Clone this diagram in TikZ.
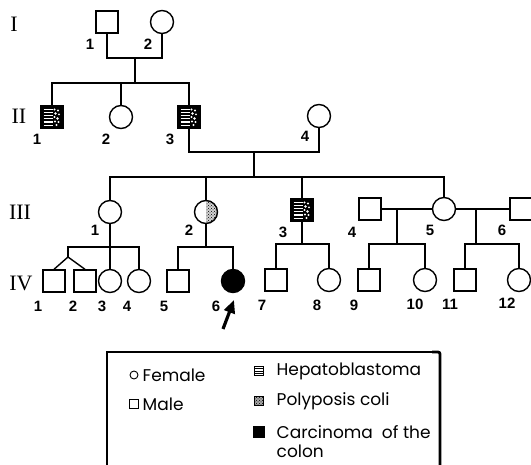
\documentclass[tikz,border=0pt]{standalone}
\usepackage{fontspec}
\setmainfont{Liberation Serif}
\newfontfamily\numfont{Liberation Sans}
\newfontfamily\legfont{Poppins}
\usetikzlibrary{patterns,arrows.meta,calc}
\begin{document}
\begin{tikzpicture}[x=1pt,y=-1pt,line width=1.4pt,
  male/.style={draw,rectangle,minimum size=22pt,inner sep=0pt,fill=white},
  female/.style={draw,circle,minimum size=23pt,inner sep=0pt,fill=white},
  both/.style={path picture={
     \fill[black] (path picture bounding box.south west) rectangle (path picture bounding box.north east);
     \foreach \i in {1,...,6}
       \draw[white,line width=1.1pt] ($(path picture bounding box.north west)+(2.5pt,-\i*3.1pt-0.5pt)$) -- ++(9pt,0pt);
     \foreach \dx/\dy/\r in {2.5/-3.5/1.2,6/-4.5/1.1,3.5/-7.5/1.3,7/-8.5/1,2.5/-11/1.1,5.5/-12.5/1.3,3/-15.5/1.2,6.5/-16/1.1,4.5/-19/1.2}
       \fill[white] ($(path picture bounding box.north)+(\dx pt,\dy pt)$) circle (\r pt);
  }},
  halfpoly/.style={path picture={
     \fill[gray!35] (path picture bounding box.north) rectangle (path picture bounding box.south east);
     \fill[pattern=crosshatch dots,pattern color=black] (path picture bounding box.north) rectangle (path picture bounding box.south east);
  }},
  num/.style={font=\numfont\bfseries\fontsize{15}{15}\selectfont,inner sep=0pt},
  gen/.style={font=\fontsize{22}{22}\selectfont,inner sep=0pt},
  leg/.style={font=\legfont\fontsize{17}{17}\selectfont,inner sep=0pt,anchor=west}
]
\useasboundingbox (0,0) rectangle (531,465);

% generation labels
\node[gen] (gI) at (14,24) {I};
\node[gen] (gII) at (19,116) {II};
\node[gen] (gIII) at (20,212) {III};
\node[gen] (gIV) at (21,283) {IV};

% Generation I
\node[male] (I1) at (107,22) {};
\node[female] (I2) at (162,22) {};
\node[num] (lI1) at (90,44) {1};
\node[num] (lI2) at (148,44) {2};

% Generation II
\node[male,both] (II1) at (52,117) {};
\node[female] (II2) at (121,117) {};
\node[male,both] (II3) at (189,117) {};
\node[female] (II4) at (319,116) {};
\node[num] (lII1) at (37,139) {1};
\node[num] (lII2) at (106,139) {2};
\node[num] (lII3) at (170,139) {3};
\node[num] (lII4) at (305,136) {4};

% Generation III
\node[female] (III1) at (110,212) {};
\node[female,halfpoly] (III2) at (206,212) {};
\node[male,both] (III3) at (302,210) {};
\node[male] (III4) at (370,209) {};
\node[female] (III5) at (444,209) {};
\node[male] (III6) at (521,209) {};
\node[num] (lIII1) at (95,230) {1};
\node[num] (lIII2) at (189,230) {2};
\node[num] (lIII3) at (283,232) {3};
\node[num] (lIII4) at (352,232) {4};
\node[num] (lIII5) at (430,230) {5};
\node[num] (lIII6) at (502,230) {6};

% Generation IV
\node[male] (IV1) at (54,281) {};
\node[male] (IV2) at (85,281) {};
\node[female] (IV3) at (110,281) {};
\node[female] (IV4) at (139,281) {};
\node[male] (IV5) at (178,281) {};
\node[female,fill=black] (IV6) at (233,281) {};
\node[male] (IV7) at (276,280) {};
\node[female] (IV8) at (329,280) {};
\node[male] (IV9) at (369,280) {};
\node[female] (IV10) at (425,280) {};
\node[male] (IV11) at (465,280) {};
\node[female] (IV12) at (519,280) {};
\node[num] (lIV1) at (38,306) {1};
\node[num] (lIV2) at (73,306) {2};
\node[num] (lIV3) at (102,306) {3};
\node[num] (lIV4) at (127,306) {4};
\node[num] (lIV5) at (164,306) {5};
\node[num] (lIV6) at (216,306) {6};
\node[num] (lIV7) at (262,305) {7};
\node[num] (lIV8) at (317,305) {8};
\node[num] (lIV9) at (354,305) {9};
\node[num] (lIV10) at (415,304) {10};
\node[num] (lIV11) at (450,304) {11};
\node[num] (lIV12) at (507,303) {12};

% connectors
\coordinate (m1) at (135,58);
\coordinate (s1) at (135,83);
\draw (I1.south) |- (m1) -| (I2.south);
\draw (m1) -- (s1);
\draw (II1.north) |- (s1) -| (II3.north);
\draw (II2.north) -- (II2.north |- s1);

\coordinate (m2) at (254,152);
\coordinate (s2) at (254,177);
\draw (II3.south) |- (m2) -| (II4.south);
\draw (m2) -- (s2);
\draw (III1.north) |- (s2) -| (III5.north);
\draw (III2.north) -- (III2.north |- s2);
\draw (III3.north) -- (III3.north |- s2);

\coordinate (s3) at (110,247);
\coordinate (tw) at (68,257);
\draw (III1.south) -- (IV3.north);
\draw (IV1.north) -- (tw) -- (IV2.north);
\draw (tw) |- (s3) -| (IV4.north);

\coordinate (s4) at (206,247);
\draw (III2.south) -- (s4);
\draw (IV5.north) |- (s4) -| (IV6.north);

\coordinate (s5) at (302,244);
\draw (III3.south) -- (s5);
\draw (IV7.north) |- (s5) -| (IV8.north);

\coordinate (m4) at (397,209);
\coordinate (s6) at (397,244);
\draw (III4.east) -- (III5.west);
\draw (m4) -- (s6);
\draw (IV9.north) |- (s6) -| (IV10.north);

\coordinate (m5) at (476,209);
\coordinate (s7) at (476,244);
\draw (III5.east) -- (III6.west);
\draw (m5) -- (s7);
\draw (IV11.north) |- (s7) -| (IV12.north);

% proband arrow
\coordinate (at) at (223,329);
\coordinate (ah) at (234,300);
\draw[line width=3.2pt,-{Triangle[length=13pt,width=11pt]}] (at) -- (ah);

% legend box
\draw[line width=1.2pt] (107,466) |- (436,352);
\draw[line width=2.8pt,rounded corners=2pt] (432,352) -- (440,352) -- (440,466);

\node[draw,circle,minimum size=8pt,inner sep=0pt,line width=0.9pt] (symF) at (134,375) {};
\node[leg] (tF) at (142,375) {Female};
\node[draw,rectangle,minimum size=8.5pt,inner sep=0pt,line width=0.9pt] (symM) at (134,404) {};
\node[leg] (tM) at (142,404) {Male};

\node[draw,rectangle,minimum size=9.5pt,inner sep=0pt,line width=1pt,
  path picture={\foreach \i in {1,2,3}
    \draw[line width=0.8pt] ($(path picture bounding box.north west)+(0pt,-\i*2.4pt)$) -- ++(10pt,0pt);}] (symH) at (259,371) {};
\node[leg] (tH) at (276,371) {Hepatoblastoma};
\node[draw,rectangle,minimum size=9.5pt,inner sep=0pt,line width=1pt,fill=gray!70,
  path picture={\fill[pattern=crosshatch dots,pattern color=black] (path picture bounding box.south west) rectangle (path picture bounding box.north east);}] (symP) at (259,401) {};
\node[leg] (tP) at (276,401) {Polyposis coli};
\node[draw,rectangle,minimum size=10pt,inner sep=0pt,fill=black] (symC) at (259,432) {};
\node[leg] (tC1) at (276,432) {Carcinoma\ \ of the};
\node[leg] (tC2) at (276,451) {colon};
\end{tikzpicture}
\end{document}
